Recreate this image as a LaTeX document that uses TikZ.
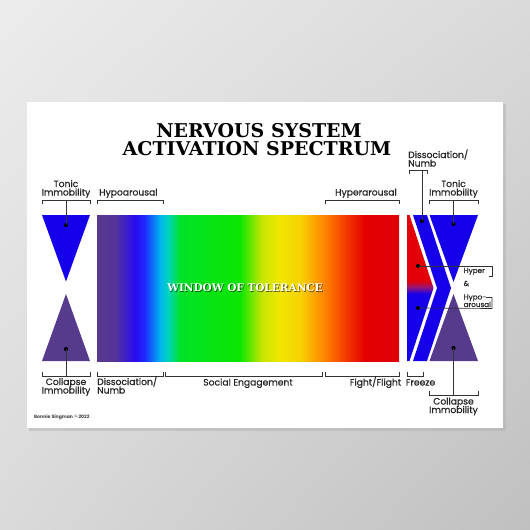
\documentclass[tikz,border=0pt]{standalone}
\usepackage{fontspec}
\usetikzlibrary{shadings}
\setmainfont{Poppins}
\newfontfamily\labfont{Poppins}[FakeBold=0.5]
\newfontfamily\ttlfont{DejaVu Serif}
\definecolor{bgA}{RGB}{236,236,236}
\definecolor{bgB}{RGB}{218,218,218}
\definecolor{bgC}{RGB}{192,192,192}
\definecolor{blueT}{RGB}{22,0,235}
\definecolor{purpT}{RGB}{86,58,140}
\definecolor{redR}{RGB}{228,0,8}
\definecolor{midP}{RGB}{150,20,120}
\definecolor{sA}{RGB}{88,58,140}
\definecolor{sB}{RGB}{85,52,152}
\definecolor{sC}{RGB}{40,10,240}
\definecolor{sD}{RGB}{30,45,255}
\definecolor{sE}{RGB}{0,180,240}
\definecolor{sF}{RGB}{0,212,190}
\definecolor{sG}{RGB}{0,226,40}
\definecolor{sH}{RGB}{12,230,0}
\definecolor{sI}{RGB}{200,230,0}
\definecolor{sJ}{RGB}{240,230,0}
\definecolor{sK}{RGB}{246,210,0}
\definecolor{sL}{RGB}{255,140,0}
\definecolor{sM}{RGB}{245,60,0}
\definecolor{sN}{RGB}{228,0,0}
\definecolor{sO}{RGB}{225,0,10}
\pgfdeclarehorizontalshading{spectrum}{100bp}{color(0bp)=(sA); color(25bp)=(sA); color(27.98bp)=(sB); color(31.29bp)=(sC); color(32.95bp)=(sD); color(35.43bp)=(sE); color(36.75bp)=(sF); color(38.74bp)=(sG); color(48.68bp)=(sH); color(52.32bp)=(sI); color(55.3bp)=(sJ); color(58.61bp)=(sK); color(62.25bp)=(sL); color(66.06bp)=(sM); color(69.37bp)=(sN); color(75bp)=(sO); color(100bp)=(sO)}
\pgfdeclareverticalshading{redblue}{100bp}{color(0bp)=(blueT); color(48bp)=(blueT); color(50.3bp)=(midP); color(52.5bp)=(redR); color(100bp)=(redR)}
\tikzset{
  br/.style={draw=black!80, line width=0.65pt},
  lab/.style={font=\labfont\fontsize{9.2}{9.2}\selectfont, text=black!85, inner sep=0},
  small/.style={font=\labfont\fontsize{7.2}{7.2}\selectfont, text=black!85, inner sep=0},
  ttl/.style={font=\ttlfont\bfseries\fontsize{19}{19}\selectfont, text=black, inner sep=0},
  wot/.style={font=\ttlfont\bfseries\fontsize{10.5}{10.5}\selectfont, inner sep=0},
  dotn/.style={circle, fill=black, inner sep=0, minimum size=4.2pt},
}
\begin{document}
\begin{tikzpicture}[x=1pt,y=-1pt]
\useasboundingbox (0,0) rectangle (530,530);
% background
\shade[upper left=bgA, upper right=bgB, lower left=bgB, lower right=bgC] (0,0) rectangle (530,530);
\fill[black!30, opacity=.5] (29,104) rectangle (506,431);
\fill[white] (27,102) rectangle (503,428);
% title
\node[ttl, anchor=base] (t1) at (259,137) {NERVOUS SYSTEM};
\node[ttl, anchor=base] (t2) at (257,155) {ACTIVATION SPECTRUM};
% spectrum
\shade[shading=spectrum] (97,215) rectangle (399,361);
\node[wot, text=black, opacity=.6, anchor=base] (wots) at (245.9,292) {WINDOW OF TOLERANCE};
\node[wot, text=white, anchor=base] (wot) at (245,291.2) {WINDOW OF TOLERANCE};
% left triangles
\fill[blueT] (42,215) -- (90,215) -- (66,281.5) -- cycle;
\fill[purpT] (66,294) -- (90,361) -- (42,361) -- cycle;
% right shapes
\shade[shading=redblue] (407,215) -- (409.5,215) -- (433.5,288) -- (409.5,361) -- (407,361) -- cycle;
\fill[blueT] (413,215) -- (427,215) -- (451,288) -- (427,361) -- (413,361) -- (437,288) -- cycle;
\fill[blueT] (429.5,215) -- (478,215) -- (453.5,282) -- cycle;
\fill[purpT] (453.5,294) -- (478,361) -- (429.5,361) -- cycle;
% dots
\node[dotn] (dTL) at (66,225) {};
\node[dotn] (dBL) at (66,349) {};
\node[dotn] (dTR) at (453.5,224) {};
\node[dotn] (dBR) at (453.5,348) {};
\node[dotn] (dCh) at (422,221) {};
\node[dotn] (dRed) at (418,266) {};
\node[dotn] (dBlue) at (418,308) {};
% top brackets
\draw[br] (42,203.5) -- (42,200) -- (90,200) -- (90,203.5);
\draw[br] (97,203.5) -- (97,200) -- (163,200) -- (163,203.5);
\draw[br] (325,203.5) -- (325,200) -- (399,200) -- (399,203.5);
\draw[br] (429.5,203.5) -- (429.5,200) -- (478,200) -- (478,203.5);
\draw[br] (409,173.5) -- (409,170) -- (427,170) -- (427,173.5);
% bottom brackets
\draw[br] (42,372) -- (42,376) -- (90,376) -- (90,372);
\draw[br] (97,372) -- (97,376) -- (163,376) -- (163,372);
\draw[br] (165,372) -- (165,376) -- (322,376) -- (322,372);
\draw[br] (325,372) -- (325,376) -- (399,376) -- (399,372);
\draw[br] (407,372) -- (407,376) -- (423,376) -- (423,372);
\draw[br] (429.5,390.5) -- (429.5,395) -- (478,395) -- (478,390.5);
% connectors
\coordinate (bTL) at (66,200);
\coordinate (bBL) at (66,376);
\coordinate (bTR) at (453.5,200);
\coordinate (bBR) at (453.5,395);
\coordinate (bCh) at (422,170);
\draw[br] (dTL.center) -- (bTL);
\draw[br] (dBL.center) -- (bBL);
\draw[br] (dTR.center) -- (bTR);
\draw[br] (dBR.center) -- (bBR);
\draw[br] (dCh.center) -- (bCh);
\coordinate (hyA) at (492,266);
\coordinate (hyB) at (492,276);
\coordinate (hyC) at (488.5,276);
\coordinate (hoA) at (492,308.5);
\coordinate (hoB) at (492,297.5);
\coordinate (hoC) at (486,297.5);
\draw[br] (dRed.center) -- (hyA) -- (hyB) -- (hyC);
\draw[br] (dBlue.center) -- (hoA) -- (hoB) -- (hoC);
% top labels
\node[lab, anchor=base] (lT1) at (66,187) {Tonic};
\node[lab, anchor=base] (lT2) at (66,195.5) {Immobility};
\node[lab, anchor=base west] (lHypo) at (99,195.5) {Hypoarousal};
\node[lab, anchor=base east] (lHyper) at (397,195.5) {Hyperarousal};
\node[lab, anchor=base] (lT3) at (453.5,187) {Tonic};
\node[lab, anchor=base] (lT4) at (453.5,195.5) {Immobility};
\node[lab, anchor=base west] (lD1) at (408,158) {Dissociation/};
\node[lab, anchor=base west] (lD2) at (408,166.5) {Numb};
% bottom labels
\node[lab, anchor=base] (lC1) at (66,385) {Collapse};
\node[lab, anchor=base] (lC2) at (66,393.5) {Immobility};
\node[lab, anchor=base west] (lD3) at (97,385) {Dissociation/};
\node[lab, anchor=base west] (lD4) at (97,393.5) {Numb};
\node[lab, anchor=base] (lSE) at (248,385.5) {Social Engagement};
\node[lab, anchor=base] (lFF) at (375.5,385.5) {Fight/Flight};
\node[lab, anchor=base] (lFr) at (420.5,385.5) {Freeze};
\node[lab, anchor=base] (lC3) at (453.5,404.5) {Collapse};
\node[lab, anchor=base] (lC4) at (453.5,413) {Immobility};
% hyper / hypo labels
\node[small, anchor=base west] (sH1) at (463.5,273) {Hyper};
\node[small, anchor=base west] (sH2) at (463.5,286) {\&};
\node[small, anchor=base west] (sH3) at (463.5,299.5) {Hypo-};
\node[small, anchor=base west] (sH4) at (463.5,307) {arousal};
% copyright
\node[font=\bfseries\fontsize{4.6}{5}\selectfont, text=black!75, inner sep=0, anchor=west] (copy) at (34,417) {Bonnie Singman © 2022};
\end{tikzpicture}
\end{document}
